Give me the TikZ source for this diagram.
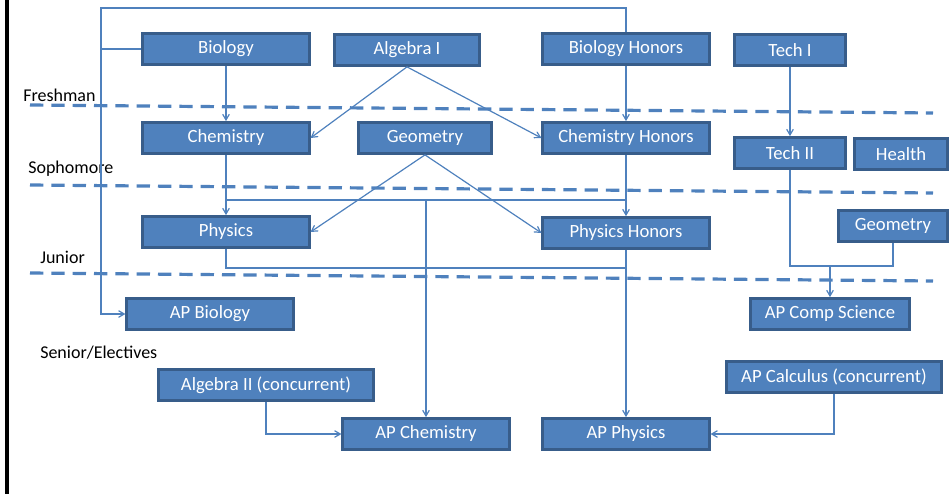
\documentclass[tikz,border=0pt]{standalone}
\usepackage{fontspec}
\setmainfont{Carlito}
\usepackage{tikz}
\usetikzlibrary{arrows}
\definecolor{boxblue}{RGB}{79,129,189}
\definecolor{boxedge}{RGB}{56,93,138}
\definecolor{linkblue}{RGB}{79,129,189}
\tikzstyle{course} = [rectangle, minimum width=125pt, minimum height=23.5pt, text centered, draw=boxedge, line width=1.8pt, fill=boxblue, text=white, font=\fontsize{14}{16}\selectfont]
\tikzstyle{year} = [anchor=west, inner sep=0pt, text=black, font=\fontsize{13.5}{16}\selectfont]
\tikzset{
  arrow/.style={draw=linkblue, line width=0.9pt, ->, >=angle 60},
  link/.style={draw=linkblue, line width=0.9pt},
  yearline/.style={draw=linkblue, line width=2.4pt, dash pattern=on 10pt off 6pt},
}

\begin{document}
\begin{tikzpicture}[x=0.75pt, y=-0.75pt]
\useasboundingbox (0,0) rectangle (951,494);
\draw [line width=2.6pt] (7,0) -- (7,494);

% freshman
\node (bio) [course] at (226,49) {Biology};
\node (alg1) [course, minimum width=109pt] at (407,50) {Algebra I};
\node (bioh) [course] at (626,49) {Biology Honors};
\node (tech1) [course, minimum width=83pt] at (790,50) {Tech I};
% sophomore
\node (chem) [course] at (226,138) {Chemistry};
\node (geo) [course, minimum width=100pt] at (425,138) {Geometry};
\node (chemh) [course] at (626,138) {Chemistry Honors};
\node (tech2) [course, minimum width=83pt] at (790,153) {Tech II};
\node (health) [course, minimum width=70pt] at (901,154) {Health};
% junior
\node (phys) [course] at (226,232) {Physics};
\node (physh) [course] at (626,233) {Physics Honors};
\node (geo2) [course, minimum width=82pt] at (893,226) {Geometry};
% senior
\node (apbio) [course] at (210,314) {AP Biology};
\node (apcs) [course, minimum width=119pt] at (830,314) {AP Comp Science};
\node (alg2) [course, minimum width=161pt] at (266,385) {Algebra II (concurrent)};
\node (apcalc) [course, minimum width=161pt] at (834,377) {AP Calculus (concurrent)};
\node (apchem) [course] at (426,434) {AP Chemistry};
\node (apphys) [course] at (626,434) {AP Physics};

\node (fresh) [year] at (23,95) {Freshman};
\node (soph) [year] at (28,169) {Sophomore};
\node (jun) [year] at (40,257) {Junior};
\node (sen) [year] at (40,353) {Senior/Electives};

\draw [yearline] (30,105) -- (933,113);
\draw [yearline] (30,185) -- (933,193);
\draw [yearline] (30,273) -- (933,281);

\coordinate (topleft) at (101,8);
\coordinate (sophbar) at (426,200);
\coordinate (junbar) at (626,268);
\coordinate (csbar) at (830,266);

\draw [arrow] (bioh.north) |- (topleft) |- (apbio.west);
\draw [link] (bio.west) -- (bio.west -| topleft);
\draw [arrow] (bio) -- (chem);
\draw [arrow] (alg1.south) -- (chem.east);
\draw [arrow] (alg1.south) -- (chemh.west);
\draw [arrow] (bioh) -- (chemh);
\draw [arrow] (tech1) -- (tech2);

\draw [arrow] (chem) -- (phys);
\draw [arrow] (chemh) -- (physh);
\draw [link] (sophbar -| chem.south) -- (sophbar -| chemh.south);
\draw [arrow] (sophbar) -- (apchem);
\draw [arrow] (geo.south) -- (phys.east);
\draw [arrow] (geo.south) -- (physh.west);

\draw [link] (phys.south) |- (junbar);
\draw [arrow] (physh) -- (apphys);
\draw [link] (tech2.south) |- (csbar);
\draw [link] (geo2.south) |- (csbar);
\draw [arrow] (csbar) -- (apcs);
\draw [arrow] (alg2.south) |- (apchem.west);
\draw [arrow] (apcalc.south) |- (apphys.east);

\end{tikzpicture}
\end{document}
